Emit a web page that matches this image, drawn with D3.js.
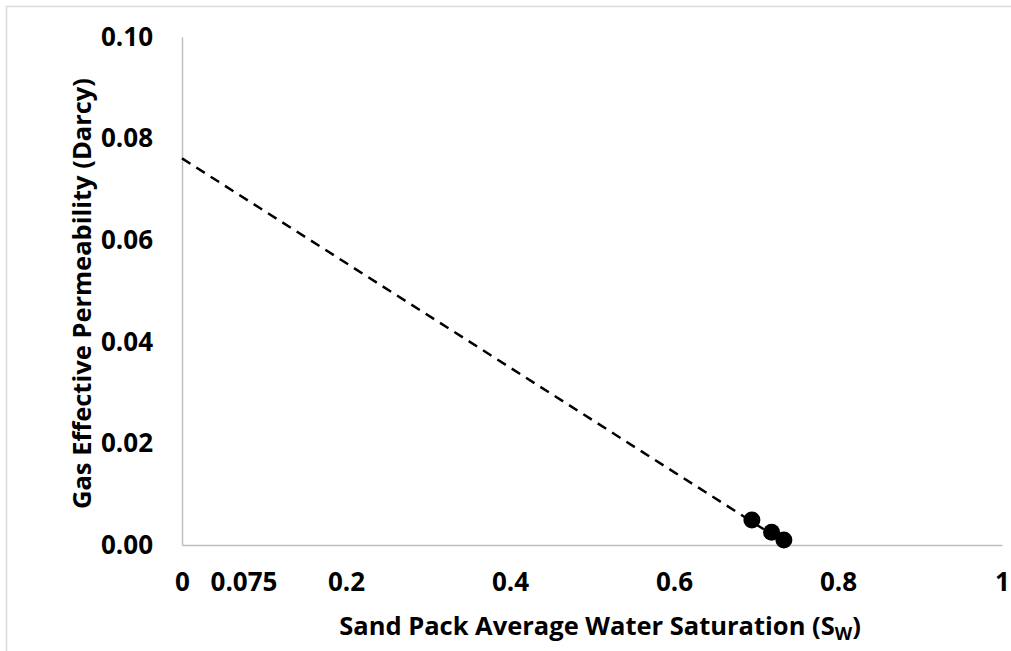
<!DOCTYPE html>
<html>
<head>
<meta charset="utf-8">
<script src="https://cdn.jsdelivr.net/npm/d3@7"></script>
<style>
  html, body { margin: 0; padding: 0; background: #fff; }
  svg { display: block; }
  text { font-family: "Open Sans", Lato, sans-serif; font-weight: bold; fill: #000; }
</style>
</head>
<body>
<script>
// Measured water saturation vs gas effective permeability
const saturation = [0.695, 0.719, 0.734];
const permeability = [0.0049, 0.0025, 0.0010];

// Linear trend line (intercept, slope)
const trendIntercept = 0.0761;
const trendSlope = -0.1029;

const xTicks = [0, 0.075, 0.2, 0.4, 0.6, 0.8, 1];
const xTickLabels = ["0", "0.075", "0.2", "0.4", "0.6", "0.8", "1"];
const yTicks = [0, 0.02, 0.04, 0.06, 0.08, 0.10];
const yTickLabels = ["0.00", "0.02", "0.04", "0.06", "0.08", "0.10"];

const W = 1011, H = 651;
const margin = { left: 182, right: 9, top: 37, bottom: 106 };

const svg = d3.select("body").append("svg").attr("width", W).attr("height", H);

// chart area frame
svg.append("rect")
  .attr("x", 6.5).attr("y", 6.5)
  .attr("width", W + 10).attr("height", H + 10)
  .attr("fill", "#fff").attr("stroke", "#d9d9d9").attr("stroke-width", 1.5);

const x = d3.scaleLinear().domain([0, 1]).range([margin.left, W - margin.right]);
const y = d3.scaleLinear().domain([0, 0.10]).range([H - margin.bottom, margin.top]);

// axes
const xAxis = d3.axisBottom(x).tickValues(xTicks)
  .tickFormat((d, i) => xTickLabels[i]).tickSize(0).tickPadding(28);
const gx = svg.append("g").attr("transform", `translate(0,${y(0)})`).call(xAxis);
gx.select(".domain").attr("stroke", "#bfbfbf").attr("stroke-width", 1.5);
gx.selectAll(".tick text").attr("font-size", 26).attr("font-family", null);

const yAxis = d3.axisLeft(y).tickValues(yTicks)
  .tickFormat((d, i) => yTickLabels[i]).tickSize(0).tickPadding(29);
const gy = svg.append("g").attr("transform", `translate(${x(0)},0)`).call(yAxis);
gy.select(".domain").attr("stroke", "#bfbfbf").attr("stroke-width", 1.5);
gy.selectAll(".tick text").attr("font-size", 26).attr("font-family", null);

// trend line over the measured range
const xEnd = d3.max(saturation);
const trend = [0, xEnd].map(s => [s, trendIntercept + trendSlope * s]);
svg.append("path")
  .datum(trend)
  .attr("fill", "none")
  .attr("stroke", "#000")
  .attr("stroke-width", 2.5)
  .attr("stroke-dasharray", "10,7")
  .attr("d", d3.line().x(d => x(d[0])).y(d => y(d[1])));

// data points
svg.append("g").selectAll("circle")
  .data(saturation.map((s, i) => [s, permeability[i]]))
  .join("circle")
  .attr("cx", d => x(d[0]))
  .attr("cy", d => y(d[1]))
  .attr("r", 8.5)
  .attr("fill", "#000");

// axis titles
const xTitle = svg.append("text")
  .attr("x", 600).attr("y", 635)
  .attr("text-anchor", "middle")
  .attr("font-size", 25.5);
xTitle.append("tspan").text("Sand Pack Average Water Saturation (S");
xTitle.append("tspan").attr("font-size", 18).attr("dy", 5).text("W");
xTitle.append("tspan").attr("dy", -5).text(")");

svg.append("text")
  .attr("transform", "translate(91,293.5) rotate(-90)")
  .attr("text-anchor", "middle")
  .attr("font-size", 25.5)
  .text("Gas Effective Permeability (Darcy)");
</script>
</body>
</html>
